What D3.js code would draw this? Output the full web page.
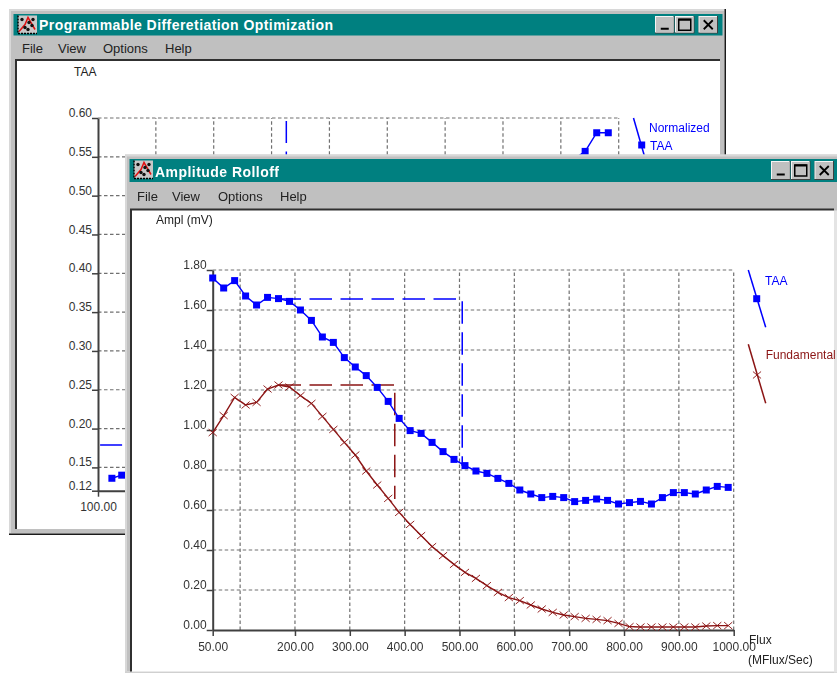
<!DOCTYPE html>
<html>
<head>
<meta charset="utf-8">
<script src="https://cdn.jsdelivr.net/npm/d3@7"></script>
<style>
    html, body { margin: 0; padding: 0; background: #fff; overflow: hidden; }
    svg { display: block; filter: blur(0.35px); }
    text { font-family: "Liberation Sans", Arial, sans-serif; }
</style>
</head>
<body>
<div id="chart"></div>
<script>
// front chart: amplitude rolloff
const fluxValues = [50, 70, 90, 110, 130, 150, 170, 190, 210, 230, 250, 270, 290, 310, 330, 350,
    370, 390, 410, 430, 450, 470, 490, 510, 530, 550, 570, 590, 610, 630, 650, 670, 690, 710,
    730, 750, 770, 790, 810, 830, 850, 870, 890, 910, 930, 950, 970, 990];
const taaValues = [1.76, 1.71, 1.747, 1.67, 1.625, 1.663, 1.657, 1.643, 1.60, 1.548, 1.465, 1.438,
    1.362, 1.315, 1.272, 1.213, 1.143, 1.058, 0.997, 0.983, 0.938, 0.892, 0.853, 0.822, 0.795,
    0.783, 0.758, 0.733, 0.70, 0.68, 0.662, 0.668, 0.662, 0.642, 0.648, 0.655, 0.648, 0.63,
    0.637, 0.643, 0.63, 0.662, 0.687, 0.687, 0.68, 0.70, 0.718, 0.713];
const fundamentalValues = [0.987, 1.072, 1.163, 1.125, 1.138, 1.205, 1.225, 1.215, 1.172, 1.133,
    1.068, 1.003, 0.938, 0.875, 0.795, 0.725, 0.658, 0.588, 0.528, 0.472, 0.417, 0.372, 0.328,
    0.288, 0.258, 0.222, 0.188, 0.162, 0.147, 0.125, 0.105, 0.088, 0.075, 0.067, 0.058, 0.053,
    0.047, 0.033, 0.017, 0.015, 0.015, 0.015, 0.015, 0.015, 0.015, 0.02, 0.022, 0.022];
const taaStepFlux = [170, 505, 505];
const taaStepValues = [1.655, 1.655, 0.82];
const fundamentalStepFlux = [170, 382, 382];
const fundamentalStepValues = [1.225, 1.225, 0.655];
const frontYTicks = [0, 0.2, 0.4, 0.6, 0.8, 1.0, 1.2, 1.4, 1.6, 1.8];
const frontXTicks = [50, 200, 300, 400, 500, 600, 700, 800, 900, 1000];
const frontXGrid = [100, 200, 300, 400, 500, 600, 700, 800, 900, 1000];

// back chart: only the points not hidden by the front window
const backFlux = [124, 141, 942, 962, 982];
const backValues = [0.136, 0.14, 0.557, 0.581, 0.581];
const backStepFlux = [425.5, 425.5, 100];
const backStepValues = [0.596, 0.179, 0.179];
const backYTicks = [0.12, 0.15, 0.2, 0.25, 0.3, 0.35, 0.4, 0.45, 0.5, 0.55, 0.6];
const backXTicks = [100];
const backXGrid = [200, 300, 400, 500, 600, 700, 800, 900, 1000];

const menuItems = ['File', 'View', 'Options', 'Help'];

const BLUE = '#0000ff';
const RED = '#8b1414';
const TEAL = '#008080';
const GREY = '#c0c0c0';
const AXIS = '#404040';

const svg = d3.select('#chart')
    .append('svg')
    .attr('width', 837)
    .attr('height', 675);

// one raised caption button, kind is min, max or close
function drawButton(g, x, y, w, h, kind) {
    g.append('rect').attr('x', x).attr('y', y).attr('width', w).attr('height', h).attr('fill', '#404040');
    g.append('rect').attr('x', x).attr('y', y).attr('width', w - 1).attr('height', h - 1).attr('fill', '#f4f4f4');
    g.append('rect').attr('x', x + 1).attr('y', y + 1).attr('width', w - 2).attr('height', h - 2).attr('fill', GREY);

    const cx = x + w / 2;
    const cy = y + h / 2;
    if (kind === 'min') {
        g.append('rect').attr('x', cx - 4).attr('y', cy + 3).attr('width', 8).attr('height', 2).attr('fill', '#000');
    } else if (kind === 'max') {
        g.append('rect').attr('x', cx - 6).attr('y', cy - 5.5).attr('width', 12).attr('height', 11)
            .attr('fill', 'none').attr('stroke', '#000').attr('stroke-width', 1.5);
        g.append('line').attr('x1', cx - 6).attr('x2', cx + 6).attr('y1', cy - 5).attr('y2', cy - 5)
            .attr('stroke', '#000').attr('stroke-width', 2);
    } else {
        g.append('path').attr('d', `M${cx - 4.5},${cy - 4.5}L${cx + 4.5},${cy + 4.5}M${cx + 4.5},${cy - 4.5}L${cx - 4.5},${cy + 4.5}`)
            .attr('stroke', '#000').attr('stroke-width', 1.8);
    }
}

// little chart icon in the caption
function drawIcon(g, x, y) {
    g.append('rect').attr('x', x).attr('y', y).attr('width', 19).attr('height', 18).attr('fill', '#c8c8c8');
    g.append('path').attr('d', `M${x},${y}V${y + 18}H${x + 19}`).attr('fill', 'none').attr('stroke', '#000').attr('stroke-width', 1.5).attr('stroke-dasharray', '2 1');
    g.append('path').attr('d', `M${x + 1},${y + 16}L${x + 7},${y + 9}L${x + 10},${y + 2}L${x + 17},${y + 14}`)
        .attr('fill', 'none').attr('stroke', '#e01010').attr('stroke-width', 1.5);
    g.selectAll('.dot')
        .data([[4, 4], [7, 12], [11, 7], [14, 10], [10, 14], [15, 4]])
        .join('circle')
        .attr('cx', (d) => x + d[0])
        .attr('cy', (d) => y + d[1])
        .attr('r', 1.7)
        .attr('fill', '#111');
}

function drawWindow(cfg) {
    const g = svg.append('g');
    const { x, y, w, h } = cfg;

    g.append('rect').attr('x', x).attr('y', y).attr('width', w).attr('height', h).attr('fill', cfg.shadow);
    g.append('rect').attr('x', x).attr('y', y).attr('width', w - 1.5).attr('height', h - 1.5).attr('fill', '#d8d8d8');
    g.append('rect').attr('x', x + 2).attr('y', y + 2).attr('width', w - 4).attr('height', h - 4).attr('fill', GREY);

    // caption
    g.append('rect').attr('x', x + 4.5).attr('y', y + cfg.captionY).attr('width', w - 8).attr('height', cfg.captionH).attr('fill', TEAL);
    drawIcon(g, x + 9, y + cfg.captionY + 1.5);
    g.append('text')
        .attr('x', x + 30)
        .attr('y', y + cfg.titleY)
        .attr('font-size', 14)
        .attr('font-weight', 'bold')
        .attr('fill', '#fff')
        .attr('textLength', cfg.titleLength)
        .attr('lengthAdjust', 'spacing')
        .text(cfg.title);

    const by = y + cfg.captionY + 2;
    drawButton(g, x + w - 71, by, 19.5, cfg.captionH - 4, 'min');
    drawButton(g, x + w - 51, by, 19.5, cfg.captionH - 4, 'max');
    drawButton(g, x + w - 27.5, by, 19.5, cfg.captionH - 4, 'close');

    // menu bar
    g.selectAll('.menu')
        .data(menuItems)
        .join('text')
        .attr('x', (d, i) => x + cfg.menuX[i])
        .attr('y', y + cfg.menuY)
        .attr('font-size', 13)
        .attr('fill', '#222')
        .text((d) => d);

    // client area
    g.append('rect')
        .attr('x', x + cfg.clientX)
        .attr('y', y + cfg.clientY)
        .attr('width', cfg.clientW)
        .attr('height', cfg.clientH)
        .attr('fill', '#fff');
    g.append('path')
        .attr('d', `M${x + cfg.clientX},${y + cfg.clientY + cfg.clientH}V${y + cfg.clientY}H${x + cfg.clientX + cfg.clientW}`)
        .attr('fill', 'none')
        .attr('stroke', '#303030')
        .attr('stroke-width', 2);
    return g;
}

function drawPlot(g, cfg) {
    const { xScale, yScale } = cfg;
    const x0 = xScale.range()[0];
    const x1 = xScale.range()[1];
    const y0 = yScale.range()[0];
    const y1 = yScale.range()[1];

    // grid
    g.selectAll('.grid-h')
        .data(cfg.yTicks.filter((d) => d !== yScale.domain()[0]))
        .join('line')
        .attr('x1', x0).attr('x2', x1)
        .attr('y1', (d) => yScale(d)).attr('y2', (d) => yScale(d))
        .attr('stroke', '#707070').attr('stroke-width', 1.2).attr('stroke-dasharray', '3.5 2.5');
    g.selectAll('.grid-v')
        .data(cfg.xGrid)
        .join('line')
        .attr('x1', (d) => xScale(d)).attr('x2', (d) => xScale(d))
        .attr('y1', y0).attr('y2', y1)
        .attr('stroke', '#707070').attr('stroke-width', 1.2).attr('stroke-dasharray', '3.5 2.5');

    // axes
    const yAxis = d3.axisLeft(yScale).tickValues(cfg.yTicks).tickFormat(d3.format('.2f')).tickSize(6).tickSizeOuter(0).tickPadding(0);
    const yG = g.append('g').attr('transform', `translate(${x0},0)`).call(yAxis);
    yG.selectAll('text').attr('dy', '-0.12em');

    const xAxis = d3.axisBottom(xScale).tickValues(cfg.xTicks).tickFormat(d3.format('.2f')).tickSize(6).tickSizeOuter(0).tickPadding(6);
    const xG = g.append('g').attr('transform', `translate(0,${y0})`).call(xAxis);

    [yG, xG].forEach((a) => {
        a.attr('font-family', null).attr('font-size', null);
        a.selectAll('text').attr('font-size', 12).attr('fill', '#333');
        a.selectAll('line').attr('stroke', AXIS).attr('stroke-width', 1.5);
        a.select('.domain').attr('stroke', AXIS).attr('stroke-width', 2);
    });

    const line = d3.line()
        .x((d) => xScale(d[0]))
        .y((d) => yScale(d[1]));

    // step lines
    cfg.steps.forEach((s) => {
        g.append('path')
            .attr('d', line(d3.zip(s.flux, s.values)))
            .attr('fill', 'none')
            .attr('stroke', s.color)
            .attr('stroke-width', 1.5)
            .attr('stroke-dasharray', s.dash);
    });

    // series
    cfg.series.forEach((s) => {
        const pts = d3.zip(s.flux, s.values);
        g.append('path')
            .attr('d', line(pts))
            .attr('fill', 'none')
            .attr('stroke', s.color)
            .attr('stroke-width', 1.4);
        g.selectAll(null)
            .data(pts)
            .join('path')
            .attr('d', s.marker)
            .attr('transform', (d) => `translate(${xScale(d[0])},${yScale(d[1])})${s.markerScale}`)
            .attr('fill', s.markerFill)
            .attr('stroke', s.markerFill === 'none' ? s.color : 'none')
            .attr('stroke-width', 1);
    });
}

function drawLegend(g, item) {
    g.append('line')
        .attr('x1', item.x1).attr('y1', item.y1)
        .attr('x2', item.x2).attr('y2', item.y2)
        .attr('stroke', item.color).attr('stroke-width', 1.5);
    g.append('path')
        .attr('d', item.marker)
        .attr('transform', `translate(${item.mx},${item.my})${item.markerScale}`)
        .attr('fill', item.markerFill)
        .attr('stroke', item.markerFill === 'none' ? item.color : 'none')
        .attr('stroke-width', 1);
    g.selectAll(null)
        .data(item.labels)
        .join('text')
        .attr('x', (d) => d.x)
        .attr('y', (d) => d.y)
        .attr('font-size', 12)
        .attr('fill', item.color)
        .text((d) => d.text);
}

function addText(g, x, y, text) {
    g.append('text').attr('x', x).attr('y', y).attr('font-size', 12).attr('fill', '#222').text(text);
}

const squareMarker = d3.symbol().type(d3.symbolSquare).size(49)();
const crossMarker = d3.symbol().type(d3.symbolX).size(45)();
const crossScale = ' scale(1,0.85)';

// back window
const backWin = drawWindow({
    x: 9, y: 9, w: 717, h: 526, shadow: '#1a1a1a',
    title: 'Programmable Differetiation Optimization',
    titleLength: 294,
    captionY: 5, captionH: 21.5, titleY: 21,
    menuX: [13, 49, 94, 156], menuY: 44,
    clientX: 7, clientY: 51, clientW: 704, clientH: 469
});
drawPlot(backWin, {
    xScale: d3.scaleLinear().domain([100, 1000]).range([98, 618.7]),
    yScale: d3.scaleLinear().domain([0.12, 0.6]).range([490.7, 118]),
    yTicks: backYTicks,
    xTicks: backXTicks,
    xGrid: backXGrid,
    steps: [{ flux: backStepFlux, values: backStepValues, color: BLUE, dash: '22 8.5' }],
    series: [{ flux: backFlux, values: backValues, color: BLUE, marker: squareMarker, markerScale: '', markerFill: BLUE }]
});
addText(backWin, 74, 76, 'TAA');
drawLegend(backWin, {
    x1: 633.5, y1: 118, x2: 645, y2: 158, color: BLUE,
    marker: squareMarker, markerScale: '', markerFill: BLUE, mx: 641.7, my: 145,
    labels: [{ x: 649, y: 132, text: 'Normalized' }, { x: 650, y: 150, text: 'TAA' }]
});

// front window, its lower and right edges are cropped by the screenshot
const frontWin = drawWindow({
    x: 125, y: 154.5, w: 717, h: 518.5, shadow: '#d0d0d0',
    title: 'Amplitude Rolloff',
    titleLength: 124,
    captionY: 4.5, captionH: 23, titleY: 22.5,
    menuX: [12, 47, 93, 155], menuY: 46,
    clientX: 6, clientY: 55, clientW: 703, clientH: 462
});
frontWin.append('rect').attr('x', 834).attr('y', 210.5).attr('width', 3).attr('height', 462).attr('fill', '#e4e4e4');
drawPlot(frontWin, {
    xScale: d3.scaleLinear().domain([50, 1000]).range([212.7, 733.7]),
    yScale: d3.scaleLinear().domain([0, 1.8]).range([630, 270]),
    yTicks: frontYTicks,
    xTicks: frontXTicks,
    xGrid: frontXGrid,
    steps: [
        { flux: taaStepFlux, values: taaStepValues, color: BLUE, dash: '22.5 8.5' },
        { flux: fundamentalStepFlux, values: fundamentalStepValues, color: RED, dash: '22.5 8.5' }
    ],
    series: [
        { flux: fluxValues, values: taaValues, color: BLUE, marker: squareMarker, markerScale: '', markerFill: BLUE },
        { flux: fluxValues, values: fundamentalValues, color: RED, marker: crossMarker, markerScale: crossScale, markerFill: 'none' }
    ]
});
addText(frontWin, 156, 224, 'Ampl (mV)');
addText(frontWin, 749, 644, 'Flux');
addText(frontWin, 748, 664, '(MFlux/Sec)');
drawLegend(frontWin, {
    x1: 748.3, y1: 270, x2: 765.7, y2: 327.3, color: BLUE,
    marker: squareMarker, markerScale: '', markerFill: BLUE, mx: 756.7, my: 298.7,
    labels: [{ x: 765, y: 285, text: 'TAA' }]
});
drawLegend(frontWin, {
    x1: 748.3, y1: 344.3, x2: 765.7, y2: 403.3, color: RED,
    marker: crossMarker, markerScale: crossScale, markerFill: 'none', mx: 757, my: 375,
    labels: [{ x: 765.7, y: 359, text: 'Fundamental' }]
});
</script>
</body>
</html>
